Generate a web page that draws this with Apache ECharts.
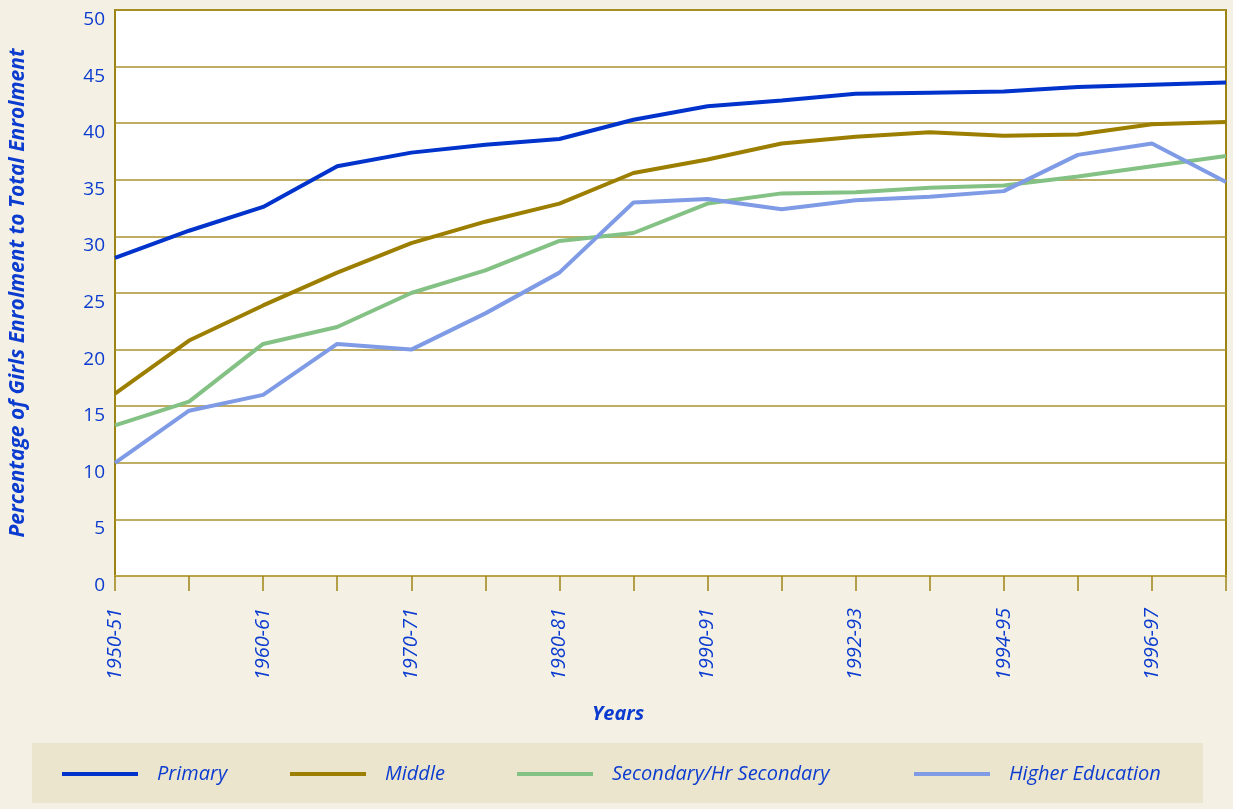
<!DOCTYPE html>
<html>
<head>
<meta charset="utf-8">
<script src="https://cdn.jsdelivr.net/npm/echarts@6/dist/echarts.min.js"></script>
<style>
html,body{margin:0;padding:0;background:#f4f1e4;}
#chart{width:1233px;height:809px;}
</style>
</head>
<body>
<div id="chart"></div>
<script>
const categories = ['1950-51','1955-56','1960-61','1965-66','1970-71','1975-76','1980-81','1985-86','1990-91','1991-92','1992-93','1993-94','1994-95','1995-96','1996-97','1997-98'];
const primary   = [28.1,30.5,32.6,36.2,37.4,38.1,38.6,40.3,41.5,42.0,42.6,42.7,42.8,43.2,43.4,43.6];
const middle    = [16.1,20.8,23.9,26.8,29.4,31.3,32.9,35.6,36.8,38.2,38.8,39.2,38.9,39.0,39.9,40.1];
const secondary = [13.3,15.4,20.5,22.0,25.0,27.0,29.6,30.3,32.9,33.8,33.9,34.3,34.5,35.3,36.2,37.1];
const higher    = [10.0,14.6,16.0,20.5,20.0,23.2,26.8,33.0,33.3,32.4,33.2,33.5,34.0,37.2,38.2,34.8];
const seriesNames = ['Primary','Middle','Secondary/Hr Secondary','Higher Education'];
const yTicks = [0,5,10,15,20,25,30,35,40,45,50];

const blue = '#0c3ccf';
const olive = '#9c8414';
const colors = ['#0033cc','#9c7f00','#84c184','#7f9be6'];
const FONT = 'Open Sans';

const chart = echarts.init(document.getElementById('chart'));
function mkSeries(name, data, i){
  return {name, type:'line', data, symbol:'none', smooth:false,
    lineStyle:{color:colors[i], width:4}, itemStyle:{color:colors[i]}};
}
const legendLefts = [62,290,517,914];
chart.setOption({
  backgroundColor:'#f4f1e4',
  animation:false,
  textStyle:{fontFamily:FONT},
  grid:{left:115, right:7, top:10, bottom:233, show:true, backgroundColor:'#ffffff', borderColor:olive, borderWidth:2},
  graphic:[
    {type:'rect', left:32, top:743, shape:{width:1171, height:60}, style:{fill:'#ebe5cd'}, z:0},
    {type:'text', left:592, top:704, style:{text:'Years', fill:blue, font:'italic bold 20px "'+FONT+'"'}}
  ],
  legend: seriesNames.map((n,i)=>({
    data:[n], left:legendLefts[i], top:764, padding:0, icon:'rect', itemWidth:76, itemHeight:4,
    textStyle:{color:blue, fontSize:20, fontStyle:'italic', fontFamily:FONT, padding:[0,0,0,14]}, z:5
  })),
  xAxis:{type:'category', data:categories, boundaryGap:false, offset:7,
    axisLine:{lineStyle:{color:'#b9a447', width:2}},
    axisTick:{show:true, interval:0, length:15, lineStyle:{color:olive, width:1.5}},
    axisLabel:{interval:1, rotate:90, color:blue, fontSize:20, fontStyle:'italic', margin:25, fontFamily:FONT},
    splitLine:{show:false}
  },
  yAxis:{type:'value', min:yTicks[0], max:yTicks[yTicks.length-1], interval:5,
    name:'Percentage of Girls Enrolment to Total Enrolment', nameLocation:'middle', nameGap:86,
    nameTextStyle:{color:blue, fontSize:21, fontStyle:'italic', fontWeight:'bold', fontFamily:FONT},
    axisLine:{show:false}, axisTick:{show:false},
    axisLabel:{color:blue, fontSize:19, margin:10, verticalAlign:'top', fontFamily:FONT},
    splitLine:{lineStyle:{color:'#a8922e', width:1.5}}
  },
  series:[mkSeries(seriesNames[0],primary,0),mkSeries(seriesNames[1],middle,1),mkSeries(seriesNames[2],secondary,2),mkSeries(seriesNames[3],higher,3)]
});
</script>
</body>
</html>
